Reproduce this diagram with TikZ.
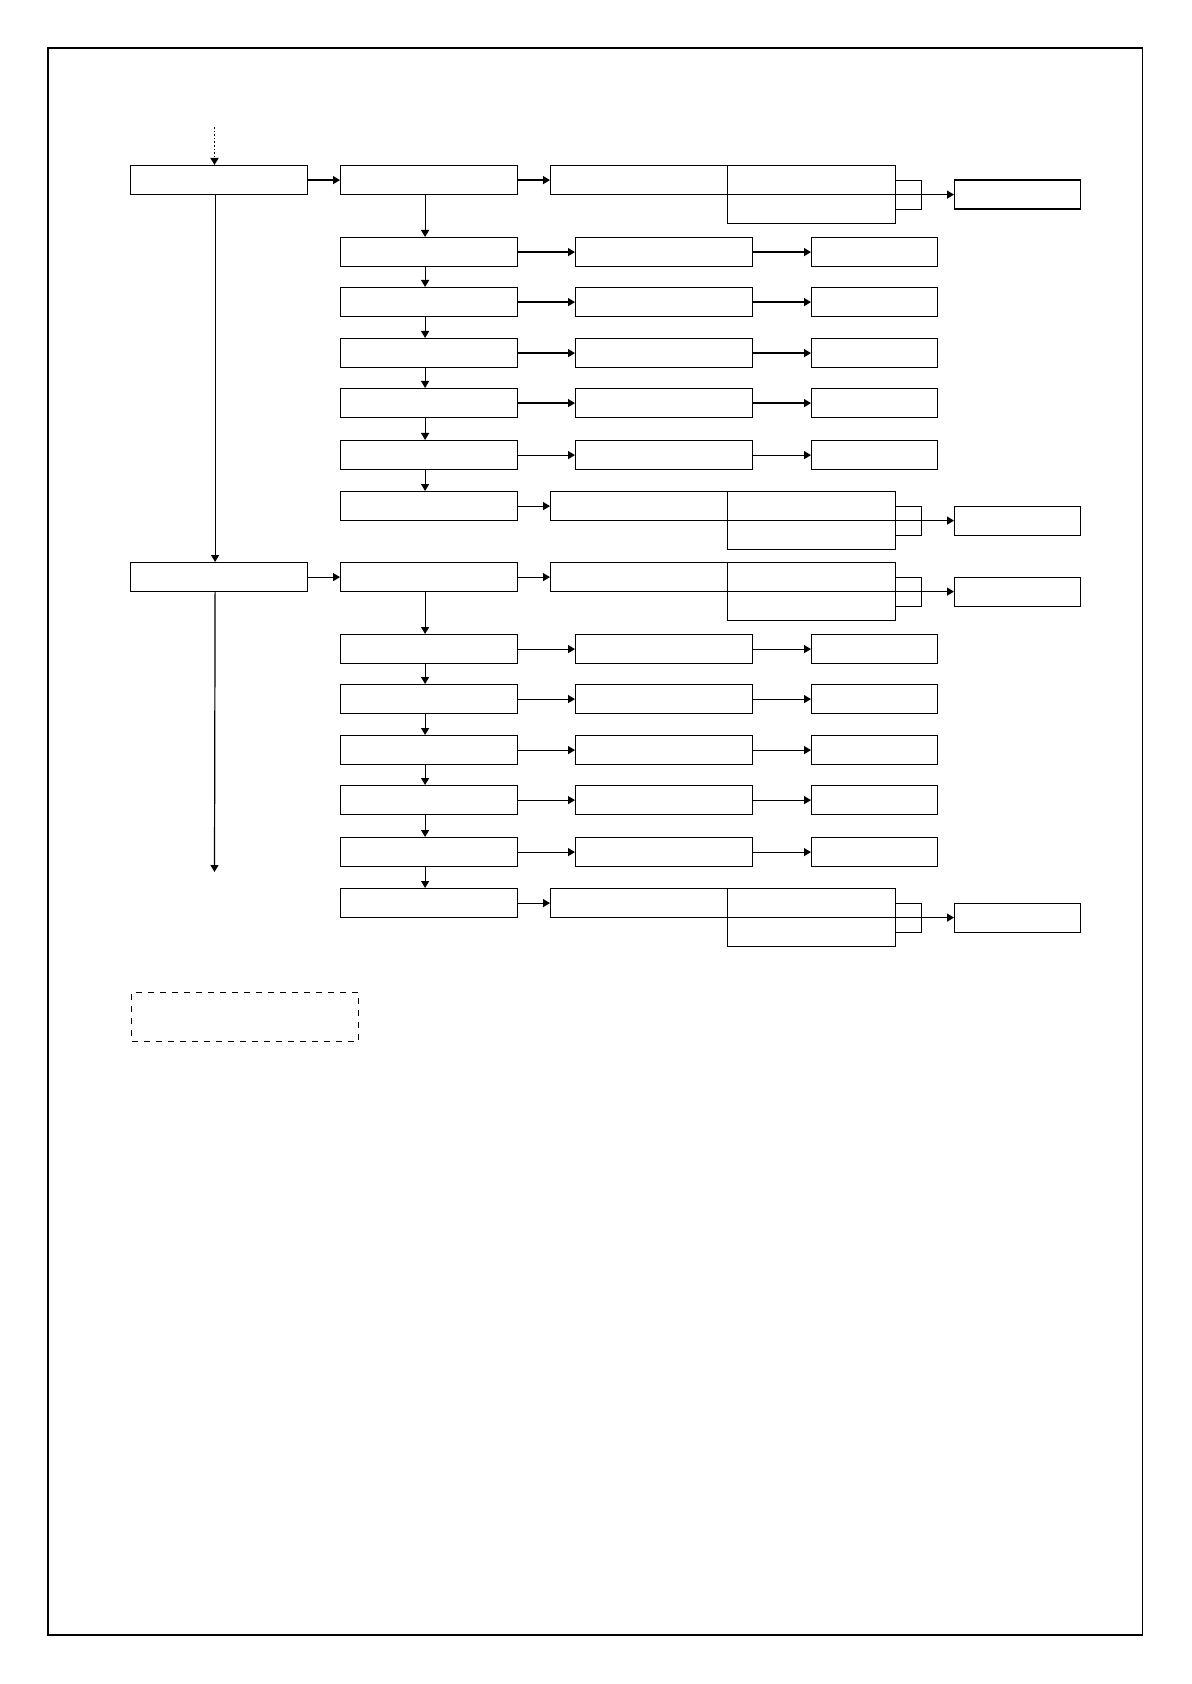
\documentclass[tikz,border=0pt]{standalone}
\usetikzlibrary{arrows.meta}

\begin{document}
\begin{tikzpicture}[x=0.5pt, y=-0.5pt, line width=0.6pt,
  box/.style={draw, rectangle, inner sep=0pt, anchor=north west,
    minimum width=88.5pt, minimum height=14.5pt},
  short/.style={box, minimum width=63pt},
  tall/.style={box, minimum width=84pt, minimum height=29pt},
  link/.style={-{Triangle[length=3.5pt, width=4pt]}}]

  \useasboundingbox (0,0) rectangle (1191,1684);
  \draw (48,48) rectangle (1142.5,1635);

  \foreach \g/\dy in {1/0, 2/397} {
    \node[box] (a-\g) at (130,165+\dy) {};

    % main column
    \foreach \r/\ty in {1/165, 2/237, 3/287, 4/338, 5/388, 6/440, 7/491}
      \node[box] (b-\g-\r) at (340,\ty+\dy) {};
    \foreach \p/\r in {1/2, 2/3, 3/4, 4/5, 5/6, 6/7}
      \draw[link] ([xshift=-2pt]b-\g-\p.south) -- ([xshift=-2pt]b-\g-\r.north);
    \draw[link] (a-\g.east) -- (b-\g-1.west);

    % side branches
    \foreach \r/\ty in {2/237, 3/287, 4/338, 5/388, 6/440} {
      \node[box] (c-\g-\r) at (575,\ty+\dy) {};
      \node[short] (d-\g-\r) at (811,\ty+\dy) {};
      \draw[link] (b-\g-\r.east) -- (c-\g-\r.west);
      \draw[link] (c-\g-\r.east) -- (d-\g-\r.west);
    }

    % split boxes
    \foreach \r/\ty in {1/165, 7/491} {
      \node[box] (s-\g-\r) at (550,\ty+\dy) {};
      \node[tall] (t-\g-\r) at (727,\ty+\dy) {};
      \draw (t-\g-\r.west) -- (t-\g-\r.east);
      \draw ([yshift=7pt]t-\g-\r.east) -- ++(25,0) -- ++(0,29) -- ++(-25,0);
      \node[short] (e-\g-\r) at (954,\ty+14.5+\dy) {};
      \draw[link] (b-\g-\r.east) -- (s-\g-\r.west);
      \draw[link] (t-\g-\r.east) -- (e-\g-\r.west);
    }
  }

  \coordinate (start) at (214.5,127);
  \coordinate (end) at (214.5,872);

  \draw[link, densely dotted, line width=0.8pt] (start) -- (start |- a-1.north);
  \draw[link] ([xshift=-2pt]a-1.south) -- ([xshift=-2pt]a-2.north);
  \draw[link] ([xshift=-2pt]a-2.south) -- (end);

  \node[box, dashed, minimum width=113.3pt, minimum height=24.6pt] (note) at (131,992) {};

\end{tikzpicture}
\end{document}
